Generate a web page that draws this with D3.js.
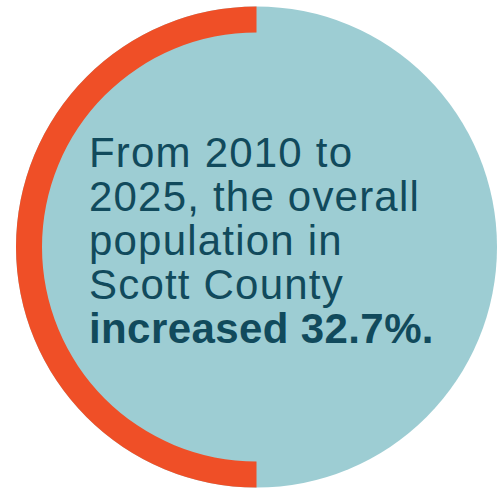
<!DOCTYPE html>
<html>
<head>
<meta charset="utf-8">
<script src="https://cdn.jsdelivr.net/npm/d3@7"></script>
<style>
  html, body { margin: 0; padding: 0; background: #ffffff; }
  svg { display: block; }
</style>
</head>
<body>
<svg id="chart" width="498" height="489"></svg>
<script>
// Ring segments: share of the full turn, starting at 12 o'clock and going counter-clockwise
const segmentNames = ["highlight"];
const segmentShares = [0.5];
const segmentColors = ["#ef4f27"];

// Statement lines shown inside the disc
const textLines = ["From 2010 to", "2025, the overall", "population in", "Scott County", "increased 32.7%."];
const lineWeights = [400, 400, 400, 400, 700];

const width = 498, height = 489;
const cx = 256.5, cy = 247, outerR = 240.5, ringW = 26;

const svg = d3.select("#chart");
const g = svg.append("g").attr("transform", `translate(${cx},${cy})`);

// Background disc
g.append("circle").attr("r", outerR).attr("fill", "#9dcdd3");

// Highlighted ring segment(s)
const angle = d3.scaleLinear().domain([0, 1]).range([0, -2 * Math.PI]);
const arc = d3.arc().innerRadius(outerR - ringW).outerRadius(outerR);
let acc = 0;
segmentShares.forEach((s, i) => {
  g.append("path")
    .attr("d", arc({ startAngle: angle(acc + s), endAngle: angle(acc) }))
    .attr("fill", segmentColors[i])
    .attr("class", segmentNames[i]);
  acc += s;
});

// Statement text
const lineY = d3.scaleLinear().domain([0, textLines.length - 1]).range([167, 343]);
const txt = svg.append("g")
  .attr("font-family", "'Liberation Sans', Arial, sans-serif")
  .attr("fill", "#114a5c");
textLines.forEach((t, i) => {
  txt.append("text")
    .attr("x", 89)
    .attr("y", lineY(i))
    .attr("font-size", 42)
    .attr("font-weight", lineWeights[i])
    .attr("letter-spacing", lineWeights[i] > 500 ? 0.4 : 1.2)
    .text(t);
});
</script>
</body>
</html>
